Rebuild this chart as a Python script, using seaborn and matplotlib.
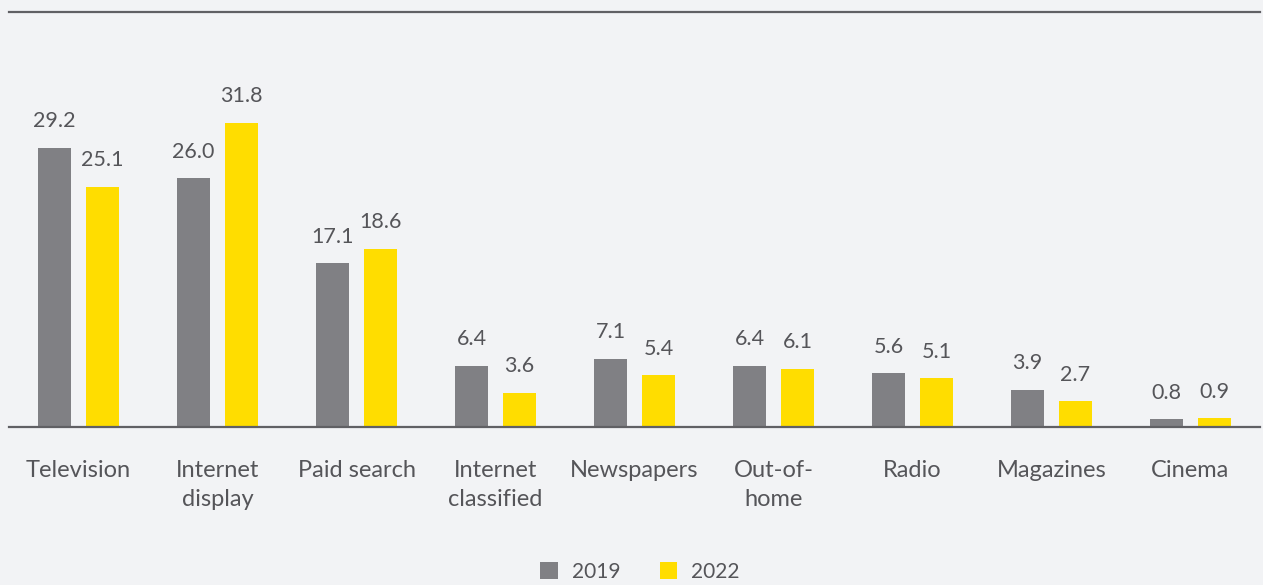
import matplotlib
matplotlib.use("Agg")
import matplotlib.pyplot as plt
from matplotlib.patches import Patch
import seaborn as sns
import pandas as pd

categories = ["Television", "Internet\ndisplay", "Paid search", "Internet\nclassified",
              "Newspapers", "Out-of-\nhome", "Radio", "Magazines", "Cinema"]
values_2019 = [29.2, 26.0, 17.1, 6.4, 7.1, 6.4, 5.6, 3.9, 0.8]
values_2022 = [25.1, 31.8, 18.6, 3.6, 5.4, 6.1, 5.1, 2.7, 0.9]
years = ["2019", "2022"]

BG = "#F2F3F5"
GREY = "#808084"
YELLOW = "#FFDD00"
TEXT = "#555559"
LINE = "#606064"

df = pd.DataFrame({
    "category": categories * 2,
    "value": values_2019 + values_2022,
    "year": [years[0]] * len(categories) + [years[1]] * len(categories),
})

sns.set_theme(style="white")
plt.rcParams["font.family"] = ["Lato", "DejaVu Sans"]

fig = plt.figure(figsize=(12.63, 5.85), dpi=100, facecolor=BG)
W, H = 1263, 585
ax = fig.add_axes([9 / W, 1 - 427 / H, (1260 - 9) / W, (427 - 12) / H])
ax.set_facecolor(BG)

sns.barplot(data=df, x="category", y="value", hue="year", order=categories,
            hue_order=years, palette=[GREY, YELLOW], width=0.69, gap=0.314,
            saturation=1, linewidth=0, edgecolor="none", legend=False, ax=ax)

for cont in ax.containers:
    ax.bar_label(cont, fmt="%.1f", padding=12, fontsize=15.5, color=TEXT)

ax.set_xlim(-0.5, 8.5)
ax.set_ylim(0, 43.4)
ax.set_xlabel("")
ax.set_ylabel("")
ax.set_yticks([])
ax.tick_params(axis="x", length=0, pad=24, labelsize=17, labelcolor=TEXT)
for lab in ax.get_xticklabels():
    lab.set_linespacing(1.45)

for side in ["left", "right"]:
    ax.spines[side].set_visible(False)
for side in ["top", "bottom"]:
    ax.spines[side].set_visible(True)
    ax.spines[side].set_color(LINE)
    ax.spines[side].set_linewidth(1.6)

handles = [Patch(facecolor=GREY, edgecolor="none"), Patch(facecolor=YELLOW, edgecolor="none")]
fig.legend(handles, years, loc="center", bbox_to_anchor=(640 / W, 1 - 572 / H),
           ncol=2, frameon=False, fontsize=15, labelcolor=TEXT,
           handlelength=0.85, handleheight=0.85, handletextpad=0.65, columnspacing=1.9)

fig.savefig("out.png", dpi=100, facecolor=BG)
